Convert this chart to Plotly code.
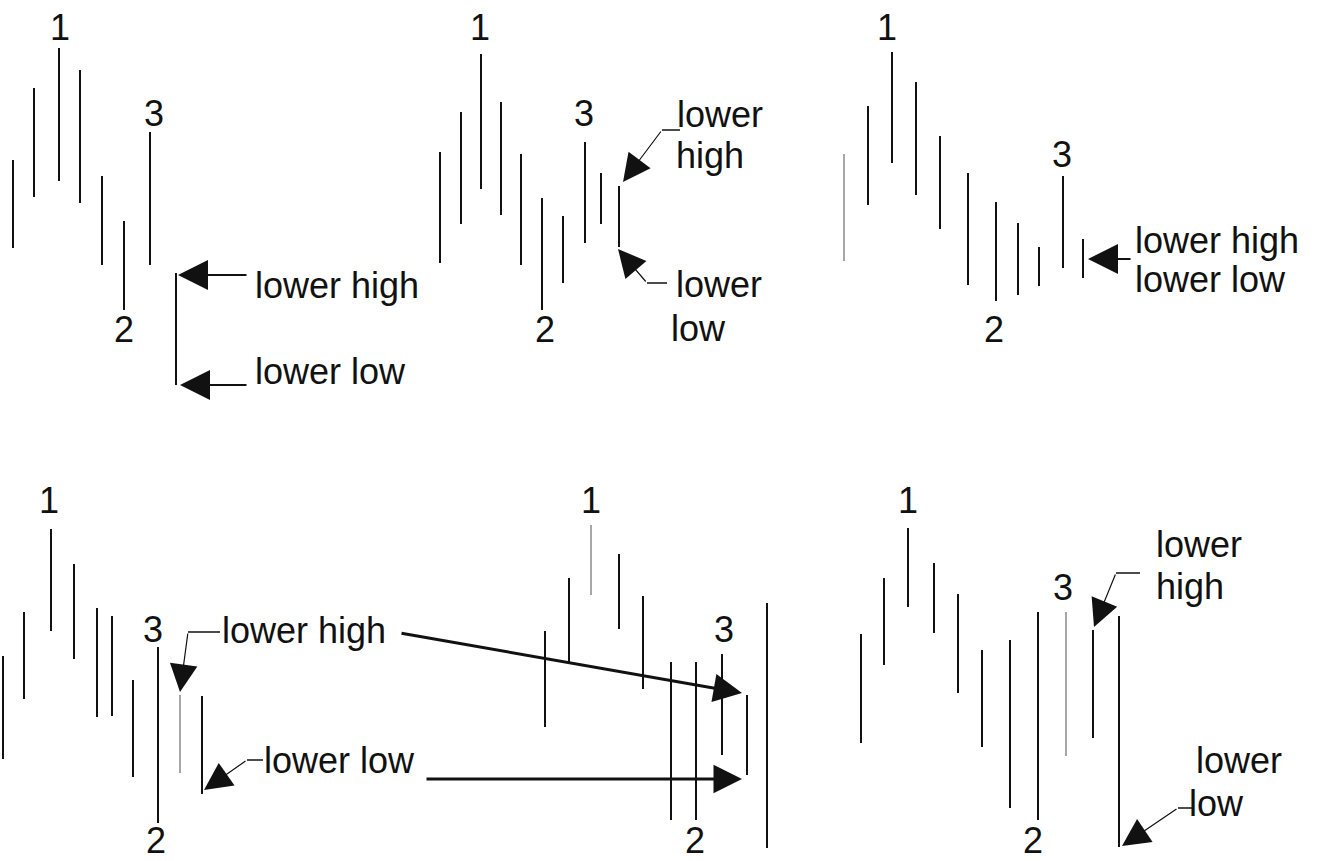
import plotly.graph_objects as go

# Canvas in screen units: x grows right, y grows downward (axis reversed).
W, H = 1321, 861

# ---- price bars, one list per panel: x position, top of range, bottom of range ----
P1_X   = [13, 34, 59, 80, 102, 124, 150, 176]
P1_TOP = [160, 88, 48, 70, 176, 221, 132, 273]
P1_BOT = [248, 197, 181, 203, 265, 310, 265, 385]

P2_X   = [440, 461, 481, 501, 521, 542, 563, 585, 601, 619]
P2_TOP = [152, 112, 54, 102, 154, 198, 216, 142, 173, 186]
P2_BOT = [263, 224, 189, 215, 265, 310, 283, 243, 224, 247]

P3_X   = [844, 868, 892, 916, 940, 968, 996, 1018, 1039, 1063, 1083]
P3_TOP = [154, 106, 52, 82, 136, 173, 202, 223, 247, 176, 239]
P3_BOT = [261, 205, 163, 195, 229, 285, 301, 295, 286, 268, 278]

P4_X   = [3, 24, 51, 74, 97, 112, 133, 158, 180, 202]
P4_TOP = [656, 612, 529, 564, 608, 616, 680, 647, 695, 696]
P4_BOT = [759, 699, 631, 659, 717, 716, 777, 823, 773, 794]

P5_X   = [545, 569, 591, 619, 643, 671, 696, 722, 747, 767]
P5_TOP = [631, 578, 525, 554, 596, 662, 662, 654, 695, 603]
P5_BOT = [727, 662, 595, 629, 689, 820, 820, 755, 775, 848]

P6_X   = [861, 884, 908, 934, 958, 982, 1010, 1038, 1066, 1093, 1119]
P6_TOP = [634, 578, 528, 563, 594, 650, 640, 612, 612, 630, 616]
P6_BOT = [743, 665, 607, 633, 693, 747, 808, 820, 756, 738, 847]

# bars drawn in a lighter grey (x positions)
GREY_BARS = [844, 180, 591, 1066]

# ---- swing point numbers: text, x, y ----
SWING_LABELS = [
    ("1", 60, 27), ("3", 154, 113), ("2", 124, 329),
    ("1", 480, 27), ("3", 584, 113), ("2", 545, 329),
    ("1", 887, 27), ("3", 1062, 154), ("2", 994, 329),
    ("1", 49, 500), ("3", 153, 629), ("2", 156, 840),
    ("1", 591, 500), ("3", 724, 629), ("2", 695, 840),
    ("1", 908, 500), ("3", 1063, 587), ("2", 1033, 840),
]

# ---- callout text (left edge x, middle y) ----
CALLOUT_TEXT = [
    ("lower high", 256, 285), ("lower low", 256, 371),
    ("lower", 678, 114), ("high", 677, 155), ("lower", 677, 284), ("low", 672, 328),
    ("lower high", 1136, 240), ("lower low", 1136, 279),
    ("lower high", 223, 630), ("lower low", 265, 760),
    ("lower", 1157, 544), ("high", 1157, 586), ("lower", 1197, 760), ("low", 1190, 803),
]

# short leader ticks from text to the start of an arrow
LEADERS = [
    ((680, 130), (662, 130)), ((667, 283), (647, 283)),
    ((220, 632), (188, 632)), ((263, 760), (247, 760)),
    ((1140, 573), (1116, 573)), ((1192, 808), (1178, 808)),
]

# arrows: tail, tip, line width, head size
ARROWS = [
    ((248, 275), (178, 275), 2, 3.0), ((248, 385), (180, 385), 2, 3.0),
    ((662, 130), (623, 182), 1.2, 4.6), ((647, 283), (618, 249), 1.2, 4.6),
    ((1132, 259), (1088, 259), 2, 3.0),
    ((188, 632), (180, 692), 1.2, 4.6), ((247, 760), (204, 790), 1.2, 4.6),
    ((400, 633), (742, 693), 3, 1.9), ((425, 779), (742, 779), 3, 1.9),
    ((1116, 573), (1094, 627), 1.2, 4.6), ((1178, 808), (1122, 846), 1.2, 4.6),
]

FONT = "Liberation Sans, Arial, Helvetica, sans-serif"

fig = go.Figure()


def bar_segments(xs, tops, bots, keep):
    px, py = [], []
    for x, t, b in zip(xs, tops, bots):
        if keep(x):
            px += [x, x, None]
            py += [t, b, None]
    return px, py


panels = [(P1_X, P1_TOP, P1_BOT), (P2_X, P2_TOP, P2_BOT), (P3_X, P3_TOP, P3_BOT),
          (P4_X, P4_TOP, P4_BOT), (P5_X, P5_TOP, P5_BOT), (P6_X, P6_TOP, P6_BOT)]

for xs, tops, bots in panels:
    bx, by = bar_segments(xs, tops, bots, lambda x: x not in GREY_BARS)
    fig.add_trace(go.Scatter(x=bx, y=by, mode="lines",
                             line=dict(color="#111111", width=2),
                             hoverinfo="skip", showlegend=False))
    gx, gy = bar_segments(xs, tops, bots, lambda x: x in GREY_BARS)
    if gx:
        fig.add_trace(go.Scatter(x=gx, y=gy, mode="lines",
                                 line=dict(color="#8a8a8a", width=1.5),
                                 hoverinfo="skip", showlegend=False))

lx, ly = [], []
for (x0, y0), (x1, y1) in LEADERS:
    lx += [x0, x1, None]
    ly += [y0, y1, None]
fig.add_trace(go.Scatter(x=lx, y=ly, mode="lines",
                         line=dict(color="#111111", width=1.5),
                         hoverinfo="skip", showlegend=False))

for txt, x, y in SWING_LABELS:
    fig.add_annotation(x=x, y=y, text=txt, showarrow=False,
                       xanchor="center", yanchor="middle",
                       font=dict(family=FONT, size=36, color="#111111"))

for txt, x, y in CALLOUT_TEXT:
    fig.add_annotation(x=x - 3, y=y, text=txt, showarrow=False,
                       xanchor="left", yanchor="middle",
                       font=dict(family=FONT, size=36, color="#111111"))

for (tx, ty), (hx, hy), w, s in ARROWS:
    fig.add_annotation(x=hx, y=hy, ax=tx, ay=ty, axref="x", ayref="y",
                       text="", showarrow=True, arrowhead=2,
                       arrowwidth=w, arrowsize=s, arrowcolor="#111111")

fig.update_layout(
    width=W, height=H,
    margin=dict(l=0, r=0, t=0, b=0),
    paper_bgcolor="white", plot_bgcolor="white",
    xaxis=dict(range=[0, W], visible=False, fixedrange=True),
    yaxis=dict(range=[H, 0], visible=False, fixedrange=True),
    showlegend=False,
)

fig.write_html("out.html", config={"displayModeBar": False})
